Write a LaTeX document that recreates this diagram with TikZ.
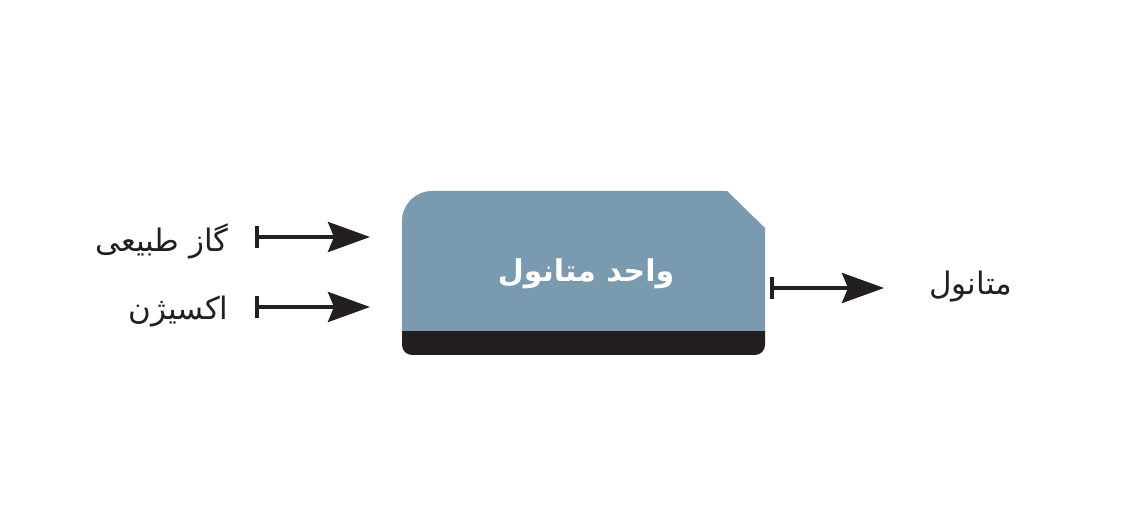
\documentclass[tikz,border=0pt]{standalone}
\usepackage{fontspec}
\newfontfamily\farsi[Script=Arabic]{DejaVu Sans}
\TeXXeTstate=1
\usetikzlibrary{arrows.meta, positioning, calc}
\definecolor{unitblue}{HTML}{7A9AB0}
\definecolor{inkdark}{HTML}{231F20}

\begin{document}
\begin{tikzpicture}[x=0.5pt,y=-0.5pt]
              \tikzset{flow/.style={{Bar[width=11pt]}-{Stealth[length=21pt,width=15pt,inset=3pt]},line width=2pt,draw=inkdark}}
              \tikzset{streamtext/.style={font=\farsi\fontsize{15.5}{20}\selectfont,text=inkdark,inner sep=0}}
              \useasboundingbox (0,0) rectangle (1138,522);
              \def\xl{402}
              \def\xr{765}
              \def\ytop{191}
              \def\yband{331}
              \def\ybot{355}
              % unit box
              \fill[inkdark] (\xl,\yband) -- (\xl,\ybot-10) arc[start angle=180,end angle=90,radius=10]
                -- (\xr-10,\ybot) arc[start angle=90,end angle=0,radius=10] -- (\xr,\yband) -- cycle;
              \fill[unitblue] (\xl,\yband) -- (\xl,\ytop+30) arc[start angle=180,end angle=270,radius=30]
                -- (727,\ytop) -- (\xr,228) -- (\xr,\yband) -- cycle;
              \node[font=\farsi\bfseries\fontsize{15}{20}\selectfont,text=white] (unit) at (586,274) {\beginR واحد متانول\endR};
              % inputs
              \coordinate (gasA) at (255,237);
              \coordinate (gasB) at (370,237);
              \coordinate (oxA) at (255,307);
              \coordinate (oxB) at (370,307);
              \draw[flow] (gasA) -- (gasB);
              \draw[flow] (oxA) -- (oxB);
              \node[streamtext,anchor=east] (gas) at (229,241) {\beginR گاز طبیعی\endR};
              \node[streamtext,anchor=east] (ox) at (229,312) {\beginR اکسیژن\endR};
              % output
              \coordinate (meA) at (770,288);
              \coordinate (meB) at (884,288);
              \draw[flow] (meA) -- (meB);
              \node[streamtext,anchor=west] (me) at (929,287) {\beginR متانول\endR};
            \end{tikzpicture}
\end{document}
